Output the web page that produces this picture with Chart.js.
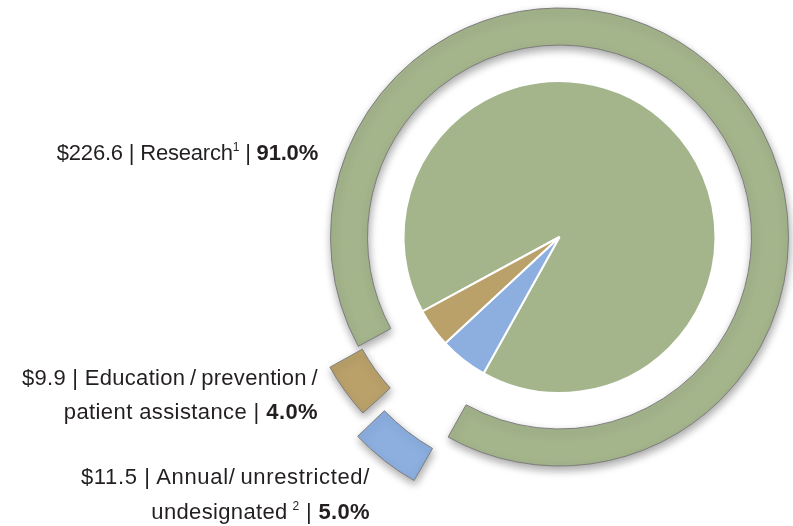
<!DOCTYPE html>
<html>
<head>
<meta charset="utf-8">
<script src="https://cdn.jsdelivr.net/npm/chart.js@4.4.1/dist/chart.umd.min.js"></script>
<style>
html,body{margin:0;padding:0;background:#ffffff;}
#wrap{position:relative;width:793px;height:526px;overflow:hidden;background:#fff;}
#c{position:absolute;left:0;top:0;}
.lbl{position:absolute;font-family:"Liberation Sans",Arial,Helvetica,sans-serif;font-size:22px;color:#231f20;white-space:nowrap;text-align:right;line-height:34px;}
.lbl b{font-weight:bold;}
.lbl sup{font-size:12px;vertical-align:9px;line-height:0;}
</style>
</head>
<body>
<div id="wrap">
<canvas id="c" width="793" height="526"></canvas>
<div class="lbl" id="a0" style="right:475px;top:136px;letter-spacing:-0.2px;"></div>
<div class="lbl" id="b0" style="right:475px;top:361px;letter-spacing:0.3px;"></div>
<div class="lbl" id="b1" style="right:475px;top:395px;letter-spacing:0.4px;"></div>
<div class="lbl" id="c0" style="right:423px;top:460px;letter-spacing:0.65px;"></div>
<div class="lbl" id="c1" style="right:423px;top:495px;letter-spacing:0.35px;"></div>
</div>
<script>
// ---- data ----
const categories = ['Research', 'Annual/unrestricted/undesignated', 'Education/prevention/patient assistance'];
const amounts = [226.6, 11.5, 9.9];          // $ millions
const shares = [91.0, 5.0, 4.0];             // percent of total
const footnotes = ['1', '2', ''];
// label text split into lines as in the reference
const labelLines = [
  ['Research'],
  ['Annual/\u2009unrestricted/', 'undesignated'],
  ['Education\u2009/\u2009prevention\u2009/', 'patient assistance']
];

// ---- styles ----
const fillColors = ['#a4b48b', '#8cafe0', '#baa16a'];
const ringOffsets = [0, 130, 80];

function fmtAmount(v){ return '$' + v.toFixed(1); }
function fmtShare(v){ return v.toFixed(1) + '%'; }
function supFor(i){
  if (!footnotes[i]) return '';
  return (i === 1 ? '\u2009' : '') + '<sup>' + footnotes[i] + '</sup>';
}
function tail(i){ return supFor(i) + ' | <b>' + fmtShare(shares[i]) + '</b>'; }

document.getElementById('a0').innerHTML = fmtAmount(amounts[0]) + ' | ' + labelLines[0][0] + tail(0);
document.getElementById('b0').innerHTML = fmtAmount(amounts[2]) + ' | ' + labelLines[2][0];
document.getElementById('b1').innerHTML = labelLines[2][1] + tail(2);
document.getElementById('c0').innerHTML = fmtAmount(amounts[1]) + ' | ' + labelLines[1][0];
document.getElementById('c1').innerHTML = labelLines[1][1] + tail(1);

const ringShadow = {
  id: 'ringShadow',
  beforeDatasetDraw(chart, args){
    if (args.index === 0) {
      const c = chart.ctx;
      c.save();
      c.shadowColor = 'rgba(0,0,0,0.35)';
      c.shadowBlur = 9;
      c.shadowOffsetX = 1;
      c.shadowOffsetY = 4;
    }
  },
  afterDatasetDraw(chart, args){
    if (args.index === 0) chart.ctx.restore();
  }
};

new Chart(document.getElementById('c'), {
  type: 'doughnut',
  data: {
    labels: categories,
    datasets: [
      {
        data: shares,
        backgroundColor: fillColors,
        borderColor: '#7d7d7d',
        borderWidth: 1,
        radius: 229,
        cutout: '67.69%',
        rotation: 241.5,
        offset: ringOffsets,
        hoverOffset: 0,
        weight: 1,
        clip: false
      },
      {
        data: shares,
        backgroundColor: fillColors,
        borderColor: '#ffffff',
        borderWidth: 2,
        radius: 312,
        cutout: 0,
        rotation: 241.5,
        weight: 1,
        clip: false
      }
    ]
  },
  options: {
    responsive: false,
    animation: false,
    events: [],
    layout: { padding: { left: 326, right: 0, top: 0, bottom: 52 } },
    plugins: { legend: { display: false }, tooltip: { enabled: false } }
  },
  plugins: [ringShadow]
});
</script>
</body>
</html>
